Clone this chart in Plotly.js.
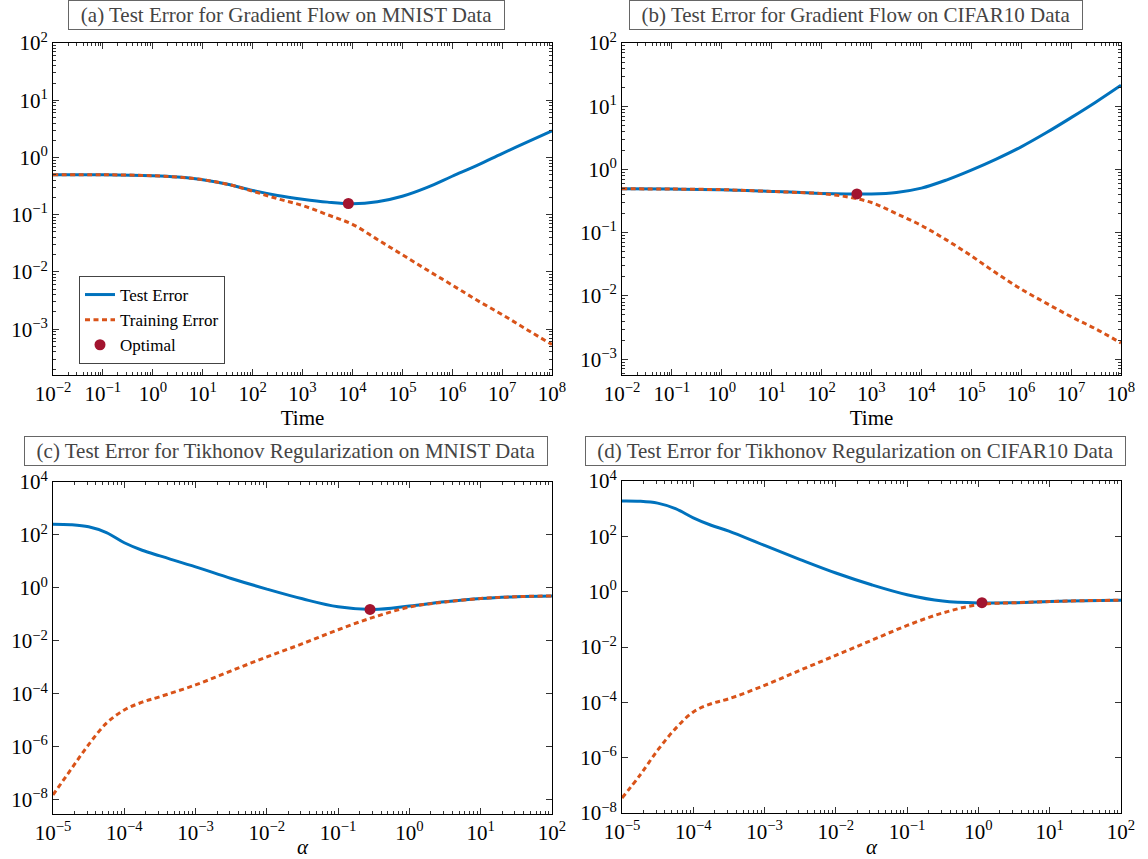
<!DOCTYPE html>
<html><head><meta charset="utf-8">
<script src="https://cdn.plot.ly/plotly-3.0.1.min.js"></script>
<style>html,body{margin:0;padding:0;background:#fff}</style>
</head><body><div id="chart" style="width:1148px;height:859px"></div>
<script>
// ---- data ----
const timeGrid = [1e-2, 1e-1, 1, 3.16, 10, 31.6, 100, 316, 1e3, 3160, 1e4, 3.16e4, 1e5, 3.16e5, 1e6, 3.16e6, 1e7, 3.16e7, 1e8];
const mnistGFTest  = [0.50, 0.50, 0.48, 0.455, 0.41, 0.342, 0.265, 0.217, 0.187, 0.166, 0.155, 0.168, 0.21, 0.30, 0.47, 0.73, 1.17, 1.85, 2.92];
const mnistGFTrain = [0.50, 0.50, 0.48, 0.455, 0.41, 0.340, 0.258, 0.190, 0.145, 0.100, 0.068, 0.037, 0.020, 0.0108, 0.0059, 0.0032, 0.0018, 0.00098, 0.00054];
const mnistGFOpt = {x: 8300, y: 0.157};

const cifarGFTest  = [0.495, 0.49, 0.48, 0.465, 0.45, 0.435, 0.418, 0.41, 0.41, 0.433, 0.507, 0.68, 0.977, 1.46, 2.28, 3.8, 6.6, 11.7, 21.5];
const cifarGFTrain = [0.495, 0.49, 0.48, 0.465, 0.45, 0.433, 0.415, 0.37, 0.30, 0.20, 0.13, 0.077, 0.043, 0.023, 0.0128, 0.0077, 0.0047, 0.0030, 0.0018];
const cifarGFOpt = {x: 510, y: 0.41};

const alphaGrid = [1e-5, 1.78e-5, 3.16e-5, 5.62e-5, 1e-4, 1.78e-4, 3.16e-4, 1e-3, 3.16e-3, 1e-2, 3.16e-2, 0.1, 0.316, 1, 3.16, 10, 31.6, 100];
const mnistTkTest  = [257, 245, 204, 123, 51, 26.6, 16.2, 6.3, 2.29, 0.91, 0.39, 0.195, 0.155, 0.209, 0.30, 0.40, 0.468, 0.50];
const mnistTkTrain = [1.55e-8, 1.4e-7, 1.23e-6, 7.9e-6, 2.5e-5, 4.9e-5, 7.9e-5, 2.2e-4, 7.5e-4, 2.5e-3, 7.9e-3, 0.0266, 0.079, 0.19, 0.295, 0.40, 0.468, 0.50];
const mnistTkOpt = {x: 0.28, y: 0.155};

const cifarTkTest  = [1905, 1860, 1585, 1000, 468, 251, 155, 46.8, 14.5, 4.73, 1.78, 0.776, 0.457, 0.389, 0.398, 0.437, 0.473, 0.49];
const cifarTkTrain = [3.5e-8, 2.3e-7, 1.86e-6, 1.12e-5, 4.5e-5, 8.9e-5, 1.35e-4, 4.1e-4, 1.45e-3, 5.0e-3, 0.0174, 0.060, 0.17, 0.34, 0.398, 0.437, 0.473, 0.49];
const cifarTkOpt = {x: 1.12, y: 0.40};

const seriesNames = ["Test Error", "Training Error", "Optimal"];
const panelTitles = [
  "(a) Test Error for Gradient Flow on MNIST Data",
  "(b) Test Error for Gradient Flow on CIFAR10 Data",
  "(c) Test Error for Tikhonov Regularization on MNIST Data",
  "(d) Test Error for Tikhonov Regularization on CIFAR10 Data"
];
const xTitles = ["Time", "Time", "<i>α</i>", "<i>α</i>"];

// ---- styling ----
const BLUE = "#0072BD", ORANGE = "#D95319", RED = "#A2142F";
const FONT = "'Liberation Serif', 'Times New Roman', serif";

function ticks(lo, hi, step) {
  const v = [], t = [];
  for (let k = lo; k <= hi; k += step) {
    v.push(Math.pow(10, k));
    t.push("10<sup>" + (k < 0 ? "\u2212" + (-k) : k) + "</sup>");
  }
  return {v, t};
}
function minors(lo, hi) {
  const v = [];
  for (let k = lo; k < hi; k++) for (let m = 2; m <= 9; m++) v.push(m * Math.pow(10, k));
  return v;
}

const panels = [
  {x: timeGrid, te: mnistGFTest, tr: mnistGFTrain, opt: mnistGFOpt, xr: [-2, 8], yr: [-3.8, 2], xt: [-2, 8, 1], yt: [-3, 2, 1], ym: true,
   dx: [53/1148, 552/1148], dy: [1-375/859, 1-43/859]},
  {x: timeGrid, te: cifarGFTest, tr: cifarGFTrain, opt: cifarGFOpt, xr: [-2, 8], yr: [-3.25, 2], xt: [-2, 8, 1], yt: [-3, 2, 1], ym: true,
   dx: [622/1148, 1121/1148], dy: [1-375/859, 1-43/859]},
  {x: alphaGrid, te: mnistTkTest, tr: mnistTkTrain, opt: mnistTkOpt, xr: [-5, 2], yr: [-8.53, 4], xt: [-5, 2, 1], yt: [-8, 4, 2], ym: false,
   dx: [53/1148, 552/1148], dy: [1-814/859, 1-482/859]},
  {x: alphaGrid, te: cifarTkTest, tr: cifarTkTrain, opt: cifarTkOpt, xr: [-5, 2], yr: [-8, 4], xt: [-5, 2, 1], yt: [-8, 4, 2], ym: false,
   dx: [622/1148, 1121/1148], dy: [1-813/859, 1-481/859]}
];

const titleBoxes = [
  {cx: 286.5, cy: 15, w: 439},
  {cx: 855.5, cy: 15, w: 456},
  {cx: 286, cy: 450.5, w: 526},
  {cx: 855.5, cy: 450.5, w: 543}
];

const traces = [];
const layout = {
  width: 1148, height: 859,
  margin: {l: 0, r: 0, t: 0, b: 0},
  paper_bgcolor: "#fff", plot_bgcolor: "#fff",
  font: {family: FONT, size: 21, color: "#000"},
  showlegend: true,
  legend: {x: 79/1148, y: 1-276/859, xanchor: "left", yanchor: "top",
           bgcolor: "#fff", bordercolor: "#444", borderwidth: 1, itemwidth: 30,
           font: {family: FONT, size: 17, color: "#000"}, tracegroupgap: 0},
  annotations: []
};

panels.forEach((p, i) => {
  const n = i + 1;
  const xa = "x" + (n === 1 ? "" : n), ya = "y" + (n === 1 ? "" : n);
  traces.push({x: p.x, y: p.te, xaxis: xa, yaxis: ya, type: "scatter", mode: "lines",
    name: seriesNames[0], showlegend: i === 0, legendrank: 1,
    line: {color: BLUE, width: 3, shape: "spline", smoothing: 1}});
  traces.push({x: p.x, y: p.tr, xaxis: xa, yaxis: ya, type: "scatter", mode: "lines",
    name: seriesNames[1], showlegend: i === 0, legendrank: 2,
    line: {color: ORANGE, width: 3, dash: "5px,3.5px", shape: "spline", smoothing: 1}});
  traces.push({x: [p.opt.x], y: [p.opt.y], xaxis: xa, yaxis: ya, type: "scatter", mode: "markers",
    name: seriesNames[2], showlegend: i === 0, legendrank: 3,
    marker: {color: RED, size: 11}});

  const xtk = ticks(p.xt[0], p.xt[1], p.xt[2]);
  const ytk = ticks(p.yt[0], p.yt[1], p.yt[2]);
  const common = {type: "log", showgrid: false, zeroline: false, showline: true, linecolor: "#000", linewidth: 1,
    mirror: "ticks", ticks: "inside", ticklen: 6, tickcolor: "#333", tickwidth: 1, tickmode: "array",
    tickfont: {family: FONT, size: 21, color: "#000"}};
  layout["xaxis" + (n === 1 ? "" : n)] = Object.assign({}, common, {
    domain: p.dx, anchor: ya, range: p.xr, tickvals: xtk.v, ticktext: xtk.t,
    minor: {tickvals: minors(p.xr[0], p.xr[1]), ticks: "inside", ticklen: 3, tickcolor: "#333", showgrid: false},
    title: {text: xTitles[i], font: {family: FONT, size: 21, color: "#000"}, standoff: 0}
  });
  const yax = Object.assign({}, common, {
    domain: p.dy, anchor: xa, range: p.yr, tickvals: ytk.v, ticktext: ytk.t
  });
  if (p.ym) yax.minor = {tickvals: minors(Math.floor(p.yr[0]), Math.ceil(p.yr[1])), ticks: "inside", ticklen: 3, tickcolor: "#333", showgrid: false};
  layout["yaxis" + (n === 1 ? "" : n)] = yax;

  const b = titleBoxes[i];
  layout.annotations.push({
    text: panelTitles[i], xref: "paper", yref: "paper",
    x: b.cx/1148, y: 1 - b.cy/859, xanchor: "center", yanchor: "middle",
    showarrow: false, width: b.w - 8, align: "center",
    bordercolor: "#666", borderwidth: 1, borderpad: 2, bgcolor: "#fff",
    font: {family: FONT, size: 21, color: "#444"}
  });
});

Plotly.newPlot("chart", traces, layout, {displayModeBar: false, staticPlot: true});
</script></body></html>
